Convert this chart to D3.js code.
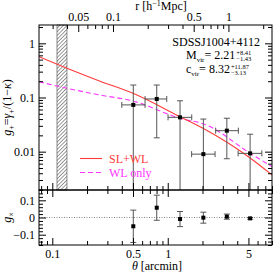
<!DOCTYPE html>
<html>
<head>
<meta charset="utf-8">
<script src="https://cdn.jsdelivr.net/npm/d3@7"></script>
<style>
  body { margin: 0; background: #fff; }
  svg { display: block; font-family: "Liberation Serif", "DejaVu Serif", serif; }
</style>
</head>
<body>
<svg id="chart" width="274" height="272"></svg>
<script>
// radial bins (arcmin)
const theta = [0.503, 0.803, 1.278, 2.035, 3.25, 5.17];
const thetaLo = [0.40, 0.636, 1.006, 1.61, 2.6, 4.07];
const thetaHi = [0.636, 0.98, 1.614, 2.57, 4.09, 6.53];
// tangential shear + errors
const gPlus = [0.073, 0.094, 0.043, 0.0090, 0.0244, 0.0093];
const gPlusErr = [0.097, 0.076, 0.044, 0.031, 0.017, 0.0117];
// cross shear + errors
const gCross = [-0.051, 0.057, -0.009, -0.001, 0.005, -0.005];
const gCrossErr = [0.094, 0.073, 0.044, 0.032, 0.015, 0.005];
// best-fit models
const slwlTheta = [0.0767, 0.134, 0.259, 0.5, 1.278, 2.02, 5.17, 8.0];
const slwl = [0.566, 0.346, 0.2, 0.1196, 0.0442, 0.0270, 0.00765, 0.00372];
const wlTheta = [0.0767, 0.134, 0.259, 0.5, 1.278, 2.105, 5.17, 8.0];
const wlOnly = [0.1956, 0.148, 0.111, 0.0862, 0.0413, 0.0318, 0.00935, 0.00529];
// region excluded from the fit
const excluded = [0.1098, 0.134];
// ticks
const xTicks = [0.1, 0.5, 1, 5];
const rTicks = [0.05, 0.1, 0.5, 1];
const yTicks = [0.01, 0.1, 1];
const resTicks = [-0.1, 0, 0.1];
const rPerArcmin = 0.298;

const pLeft = 39, pRight = 272, pTop = 25, pMid = 190, pBottom = 245;
const red = "#ff3b3b", magenta = "#ff33ff", errCol = "#555";

const svg = d3.select("#chart");

const x = d3.scaleLog().domain([0.0767, 8.0]).range([pLeft, pRight]);
const xr = d3.scaleLog().domain(x.domain().map(d => d * rPerArcmin)).range([pLeft, pRight]);
const y = d3.scaleLog().domain([0.00196, 2.18]).range([pMid, pTop]);
const yr = d3.scaleLinear().domain([-0.16, 0.16]).range([pBottom, pMid]);

// minor ticks for log scales
function logMinors(dom, majors) {
  const lo = Math.min(...dom), hi = Math.max(...dom);
  const out = [];
  for (let e = -4; e <= 2; e++) {
    for (let m = 1; m <= 9; m++) {
      const v = +(m * Math.pow(10, e)).toPrecision(3);
      if (v >= lo && v <= hi && !majors.includes(v)) out.push(v);
    }
  }
  return out;
}

// draw ticks pointing inward, labels optional
function ticks(axisFn, scale, transform, majors, minors, showLabels, fmt) {
  const g1 = svg.append("g").attr("transform", transform)
    .call(axisFn(scale).tickValues(majors).tickSize(-7).tickPadding(4)
      .tickFormat(showLabels ? fmt : ""));
  const g2 = svg.append("g").attr("transform", transform)
    .call(axisFn(scale).tickValues(minors).tickSize(-4).tickFormat(""));
  [g1, g2].forEach(g => {
    g.select(".domain").remove();
    g.selectAll("line").attr("stroke", "#000");
    g.selectAll("text").attr("font-size", 12).attr("font-family", "Liberation Serif").attr("fill", "#000");
  });
}

const fmt = d3.format("~g");

// clip
svg.append("clipPath").attr("id", "clipMain")
  .append("rect").attr("x", pLeft).attr("y", pTop).attr("width", pRight - pLeft).attr("height", pMid - pTop);
svg.append("clipPath").attr("id", "clipRes")
  .append("rect").attr("x", pLeft).attr("y", pMid).attr("width", pRight - pLeft).attr("height", pBottom - pMid);

// hatch
const pat = svg.append("defs").append("pattern")
  .attr("id", "hatch").attr("patternUnits", "userSpaceOnUse")
  .attr("width", 2.6).attr("height", 2.6).attr("patternTransform", "rotate(45)");
pat.append("line").attr("x1", 0).attr("y1", 0).attr("x2", 0).attr("y2", 2.6)
  .attr("stroke", "#333").attr("stroke-width", 1);

svg.append("rect")
  .attr("x", x(excluded[0])).attr("y", pTop)
  .attr("width", x(excluded[1]) - x(excluded[0])).attr("height", pMid - pTop)
  .attr("fill", "url(#hatch)").attr("stroke", "#444").attr("stroke-width", 0.6);

// models
const main = svg.append("g").attr("clip-path", "url(#clipMain)");
const line = d3.line().x(d => x(d[0])).y(d => y(d[1])).curve(d3.curveMonotoneX);
main.append("path").datum(wlTheta.map((t, i) => [t, wlOnly[i]]))
  .attr("d", line).attr("fill", "none").attr("stroke", magenta)
  .attr("stroke-width", 1.1).attr("stroke-dasharray", "5,3");
main.append("path").datum(slwlTheta.map((t, i) => [t, slwl[i]]))
  .attr("d", line).attr("fill", "none").attr("stroke", red).attr("stroke-width", 1.1);

// data points
const cap = 3;
theta.forEach((t, i) => {
  const yLo = y(Math.max(gPlus[i] - gPlusErr[i], 1e-4));
  const yHi = y(gPlus[i] + gPlusErr[i]);
  const yc = y(gPlus[i]);
  const eb = main.append("g").attr("stroke", errCol).attr("stroke-width", 1);
  eb.append("line").attr("x1", x(t)).attr("x2", x(t)).attr("y1", yLo).attr("y2", yHi);
  eb.append("line").attr("x1", x(t) - cap).attr("x2", x(t) + cap).attr("y1", yHi).attr("y2", yHi);
  eb.append("line").attr("x1", x(t) - cap).attr("x2", x(t) + cap).attr("y1", yLo).attr("y2", yLo);
  eb.append("line").attr("x1", x(thetaLo[i])).attr("x2", x(thetaHi[i])).attr("y1", yc).attr("y2", yc);
  eb.append("line").attr("x1", x(thetaLo[i])).attr("x2", x(thetaLo[i])).attr("y1", yc - cap).attr("y2", yc + cap);
  eb.append("line").attr("x1", x(thetaHi[i])).attr("x2", x(thetaHi[i])).attr("y1", yc - cap).attr("y2", yc + cap);
  main.append("rect").attr("x", x(t) - 2).attr("y", yc - 2).attr("width", 4).attr("height", 4).attr("fill", "#000");
});

// residual panel
const res = svg.append("g").attr("clip-path", "url(#clipRes)");
res.append("line").attr("x1", pLeft).attr("x2", pRight).attr("y1", yr(0)).attr("y2", yr(0))
  .attr("stroke", "#888").attr("stroke-width", 1).attr("stroke-dasharray", "1,1.5");
theta.forEach((t, i) => {
  const yLo = yr(gCross[i] - gCrossErr[i]);
  const yHi = yr(gCross[i] + gCrossErr[i]);
  const eb = res.append("g").attr("stroke", errCol).attr("stroke-width", 1);
  eb.append("line").attr("x1", x(t)).attr("x2", x(t)).attr("y1", yLo).attr("y2", yHi);
  eb.append("line").attr("x1", x(t) - cap).attr("x2", x(t) + cap).attr("y1", yHi).attr("y2", yHi);
  eb.append("line").attr("x1", x(t) - cap).attr("x2", x(t) + cap).attr("y1", yLo).attr("y2", yLo);
  res.append("rect").attr("x", x(t) - 2).attr("y", yr(gCross[i]) - 2).attr("width", 4).attr("height", 4).attr("fill", "#000");
});

// frames
[[pTop, pMid], [pMid, pBottom]].forEach(([a, b]) => {
  svg.append("rect").attr("x", pLeft).attr("y", a).attr("width", pRight - pLeft).attr("height", b - a)
    .attr("fill", "none").attr("stroke", "#000").attr("stroke-width", 1);
});

// axes
const xMinors = logMinors(x.domain(), xTicks);
const rMinors = logMinors(xr.domain(), rTicks);
const yMinors = logMinors(y.domain(), yTicks);
const resMinors = d3.range(-0.16, 0.161, 0.02).map(v => +v.toFixed(2)).filter(v => !resTicks.includes(v));

ticks(d3.axisTop, xr, `translate(0,${pTop})`, rTicks, rMinors, true, fmt);
ticks(d3.axisBottom, x, `translate(0,${pMid})`, xTicks, xMinors, false);
ticks(d3.axisLeft, y, `translate(${pLeft},0)`, yTicks, yMinors, true, fmt);
ticks(d3.axisRight, y, `translate(${pRight},0)`, yTicks, yMinors, false);
ticks(d3.axisTop, x, `translate(0,${pMid})`, xTicks, xMinors, false);
ticks(d3.axisBottom, x, `translate(0,${pBottom})`, xTicks, xMinors, true, fmt);
ticks(d3.axisLeft, yr, `translate(${pLeft},0)`, resTicks, resMinors, true, fmt);
ticks(d3.axisRight, yr, `translate(${pRight},0)`, resTicks, resMinors, false);

// axis titles
svg.append("text").attr("x", 161).attr("y", 10).attr("text-anchor", "middle").attr("font-size", 12)
  .html('r [h<tspan font-size="8" dy="-4">\u22121</tspan><tspan dy="4">Mpc]</tspan>');
svg.append("text").attr("x", 157).attr("y", 270).attr("text-anchor", "middle").attr("font-size", 12)
  .html('<tspan font-style="italic">\u03b8</tspan> [arcmin]');
svg.append("text").attr("transform", `translate(11,${(pTop + pMid) / 2}) rotate(-90)`)
  .attr("text-anchor", "middle").attr("font-size", 12)
  .html('<tspan font-style="italic">g</tspan><tspan font-size="8" dy="3">+</tspan>' +
        '<tspan dy="-3">=</tspan><tspan font-style="italic">\u03b3</tspan>' +
        '<tspan font-size="8" dy="3">+</tspan><tspan dy="-3">/(1\u2212</tspan>' +
        '<tspan font-style="italic">\u03ba</tspan>)');
svg.append("text").attr("transform", `translate(11,${(pMid + pBottom) / 2}) rotate(-90)`)
  .attr("text-anchor", "middle").attr("font-size", 12)
  .html('<tspan font-style="italic">g</tspan><tspan font-size="8" dy="3">\u00d7</tspan>');

// annotation
svg.append("text").attr("x", 260).attr("y", 45.5).attr("text-anchor", "end").attr("font-size", 12)
  .text("SDSSJ1004+4112");
function param(xs, ys, name, val, up, dn) {
  const t = svg.append("text").attr("x", xs).attr("y", ys).attr("font-size", 12)
    .html(`${name}<tspan font-size="7" dy="2.5">vir</tspan><tspan dy="-2.5">= ${val}</tspan>`);
  const w = t.node().getComputedTextLength();
  svg.append("text").attr("x", xs + w + 1).attr("y", ys - 4.5).attr("font-size", 6.5).text(up);
  svg.append("text").attr("x", xs + w + 1).attr("y", ys + 2).attr("font-size", 6.5).text(dn);
}
param(186, 59, "M", "2.21", "+8.41", "\u22121.43");
param(186, 73, "c", "8.32", "+11.87", "\u22123.13");

// legend
svg.append("line").attr("x1", 80).attr("x2", 102).attr("y1", 158.5).attr("y2", 158.5)
  .attr("stroke", red).attr("stroke-width", 1.1);
svg.append("text").attr("x", 109).attr("y", 162.5).attr("font-size", 12).attr("fill", red).text("SL+WL");
svg.append("line").attr("x1", 80).attr("x2", 102).attr("y1", 172.5).attr("y2", 172.5)
  .attr("stroke", magenta).attr("stroke-width", 1.1).attr("stroke-dasharray", "5,3");
svg.append("text").attr("x", 109).attr("y", 176.5).attr("font-size", 12).attr("fill", magenta).text("WL only");
</script>
</body>
</html>
